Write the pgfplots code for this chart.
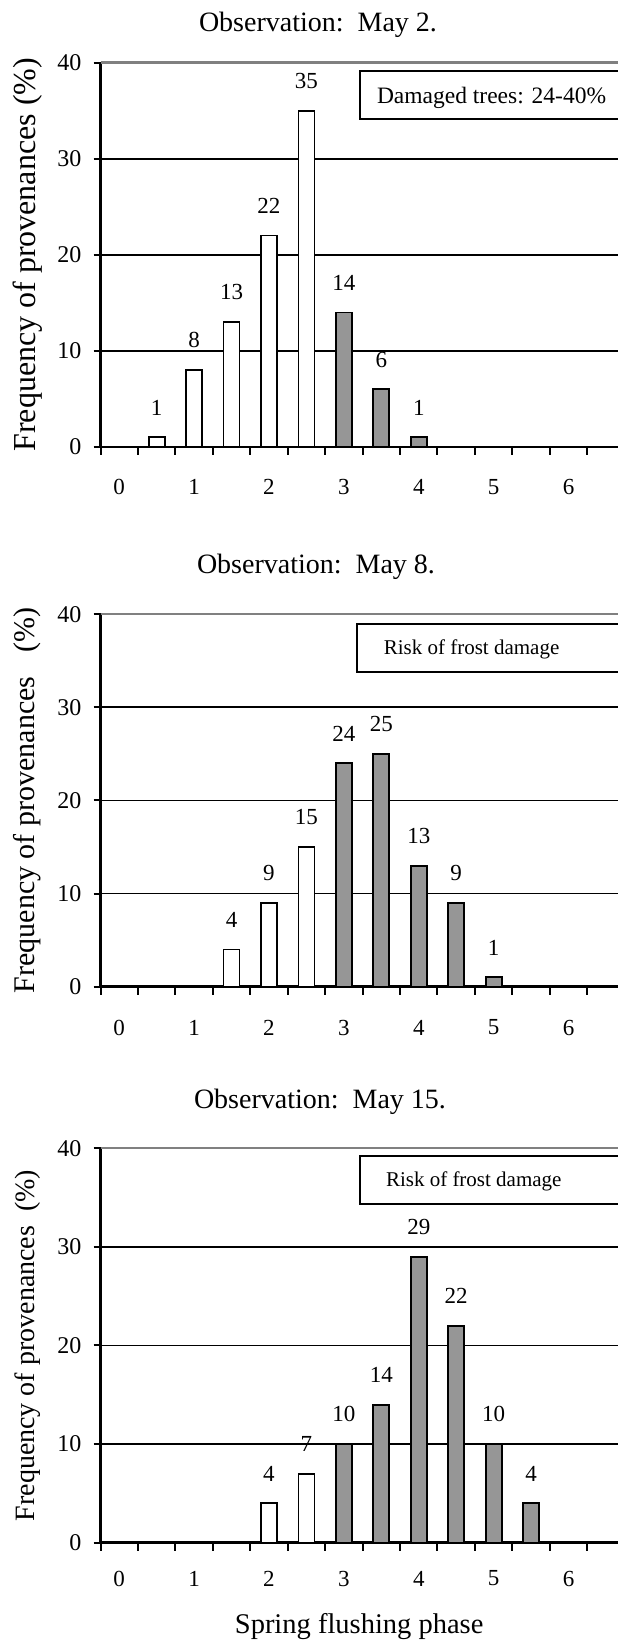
\documentclass[border=0pt]{standalone}
\usepackage{fontspec}
\setmainfont{Liberation Serif}
\usepackage{pgfplots}
\pgfplotsset{compat=1.18}

\definecolor{barfill}{RGB}{150,150,150}
\definecolor{topline}{RGB}{128,128,128}
\newcommand\fs[1]{\fontsize{#1}{#1}\selectfont}

\pgfplotsset{
  panel/.style={
    scale only axis, width=524.2pt, anchor=south west,
    xmin=-0.25, xmax=6.75, ymin=0, ymax=40,
    axis x line*=bottom, axis y line*=left,
    axis line style={-, line width=2.4pt, black},
    clip=false,
    ytick={0,10,20,30,40},
    xtick={0,...,6}, xticklabels={0,1,2,3,4,5,6},
    minor xtick={-0.25,0.25,...,6.8},
    major x tick style={draw=none},
    tick align=outside,
    major tick length=7pt, minor tick length=8pt,
    tick style={line width=2pt, black},
    ymajorgrids, grid style={line width=1.8pt, black},
    /pgf/number format/assume math mode=true,
    xticklabel style={font=\fs{23}, anchor=north, inner sep=0pt},
    yticklabel style={font=\fs{24}, anchor=east, inner sep=0pt, xshift=-12pt},
    ylabel style={at={(axis description cs:-0.1393,0.5)}, anchor=center, inner sep=0pt},
    ybar, bar width=16pt, bar shift=0pt,
    nodes near coords,
    every node near coord/.append style={font=\fs{23}, black, inner sep=0pt, yshift=21pt},
  },
  wbar/.style={draw=black, line width=1.8pt, fill=white},
  gbar/.style={draw=black, line width=1.8pt, fill=barfill},
}

\begin{document}
\begin{tikzpicture}
\useasboundingbox (0,0) rectangle (618pt,1640pt);
\clip (0,0) rectangle (618pt,1640pt);

% May 2
\begin{axis}[panel, at={(100.5pt,1193pt)}, height=384.4pt,
  xticklabel style={yshift=-25pt},
  ylabel={Frequency of provenances (\%)}, ylabel style={font=\fs{32}}]
\addplot[wbar] coordinates {(0.5,1) (1,8) (1.5,13) (2,22) (2.5,35)};
\addplot[gbar] coordinates {(3,14) (3.5,6) (4,1)};
\draw[topline, line width=2.2pt] (axis cs:-0.25,40) -- (axis cs:7,40);
\draw[line width=2pt] (axis cs:3.215,39.15) rectangle (axis cs:7,34.12);
\node[anchor=base west, font=\fs{23.5}, inner sep=0pt] at (axis cs:3.44,35.75) {Damaged trees: 24-40\%};
\end{axis}

% May 8
\begin{axis}[panel, at={(100.5pt,653.3pt)}, height=372.4pt,
  xticklabel style={yshift=-26pt},
  ylabel={Frequency of provenances\hspace{0.8em}(\%)}, ylabel style={font=\fs{30}}]
\addplot[wbar] coordinates {(1.5,4) (2,9) (2.5,15)};
\addplot[gbar] coordinates {(3,24) (3.5,25) (4,13) (4.5,9) (5,1)};
\draw[topline, line width=2.2pt] (axis cs:-0.25,40) -- (axis cs:7,40);
\draw[line width=2pt] (axis cs:3.18,38.96) rectangle (axis cs:7,33.8);
\node[anchor=base west, font=\fs{21}, inner sep=0pt] at (axis cs:3.53,35.63) {Risk of frost damage};
\end{axis}

% May 15
\begin{axis}[panel, at={(100.5pt,97.3pt)}, height=394.4pt,
  xticklabel style={yshift=-21pt},
  ylabel={Frequency of provenances\ \ (\%)}, ylabel style={font=\fs{28}},
  xlabel={Spring flushing phase},
  xlabel style={at={(axis description cs:0.4935,0)}, anchor=base, inner sep=0pt, yshift=-90.3pt, font=\fs{28.5}}]
\addplot[wbar] coordinates {(2,4) (2.5,7)};
\addplot[gbar] coordinates {(3,10) (3.5,14) (4,29) (4.5,22) (5,10) (5.5,4)};
\draw[topline, line width=2.2pt] (axis cs:-0.25,40) -- (axis cs:7,40);
\draw[line width=2pt] (axis cs:3.21,39.2) rectangle (axis cs:7,34.35);
\node[anchor=base west, font=\fs{21}, inner sep=0pt] at (axis cs:3.56,36.1) {Risk of frost damage};
\end{axis}

\node[anchor=base, font=\fs{28}, inner sep=0pt] at (318pt,1608.3pt) {Observation:\ \ May 2.};
\node[anchor=base, font=\fs{28}, inner sep=0pt] at (316pt,1066.7pt) {Observation:\ \ May 8.};
\node[anchor=base, font=\fs{28}, inner sep=0pt] at (320pt,531.7pt) {Observation:\ \ May 15.};
\end{tikzpicture}
\end{document}
